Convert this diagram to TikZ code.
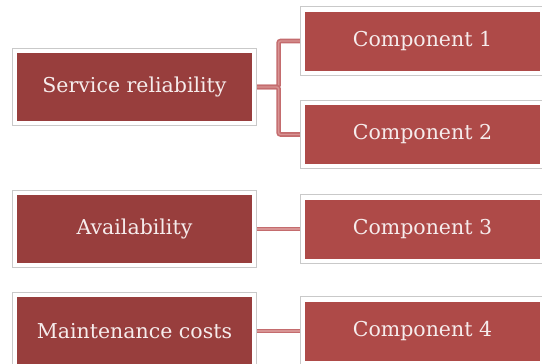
\documentclass[tikz,border=0pt]{standalone}
\usepackage{fontspec}
\setmainfont{DejaVu Serif}
\usetikzlibrary{fit,backgrounds}
\definecolor{leftred}{HTML}{983E3D}
\definecolor{rightred}{HTML}{AE4A48}
\definecolor{linkred}{HTML}{C46C6E}
\definecolor{linklight}{HTML}{D89494}
\definecolor{framegray}{HTML}{C9C9C9}
\definecolor{txt}{HTML}{F6ECEC}
\begin{document}
\begin{tikzpicture}[x=1pt,y=-1pt,
  leftbox/.style={fill=leftred, minimum width=235pt, minimum height=68pt, inner sep=0pt, text=txt, font=\fontsize{20.5}{24}\selectfont},
  rightbox/.style={fill=rightred, minimum width=235pt, minimum height=59pt, inner sep=0pt, text=txt, font=\fontsize{20.5}{24}\selectfont},
  framebox/.style={draw=framegray, line width=0.8pt, fill=white, inner sep=4.5pt},
  link/.style={draw=linkred, line width=1.6pt, double=linklight, double distance=1.4pt, rounded corners=2pt}]
\useasboundingbox (0,0) rectangle (542,364);
\clip (0,0) rectangle (542,364);
\node[leftbox] (sr) at (134.5,87) {Service reliability};
\node[leftbox] (av) at (134.5,229) {Availability};
\node[leftbox] (mc) at (134.5,331) {Maintenance costs};
\node[rightbox] (c1) at (422.5,41) {Component 1};
\node[rightbox] (c2) at (422.5,134.5) {Component 2};
\node[rightbox] (c3) at (422.5,229) {Component 3};
\node[rightbox] (c4) at (422.5,331) {Component 4};
\begin{scope}[on background layer]
\node[framebox, fit=(sr)] (sro) {};
\node[framebox, fit=(av)] (avo) {};
\node[framebox, fit=(mc)] (mco) {};
\node[framebox, fit=(c1)] (c1o) {};
\node[framebox, fit=(c2)] (c2o) {};
\node[framebox, fit=(c3)] (c3o) {};
\node[framebox, fit=(c4)] (c4o) {};
\end{scope}
\draw[link] (sro.east) -- ++(21.5,0) |- (c1o.west);
\draw[link] (sro.east) -- ++(21.5,0) |- (c2o.west);
\draw[link] (avo.east) -- (c3o.west);
\draw[link] (mco.east) -- (c4o.west);
\end{tikzpicture}
\end{document}
